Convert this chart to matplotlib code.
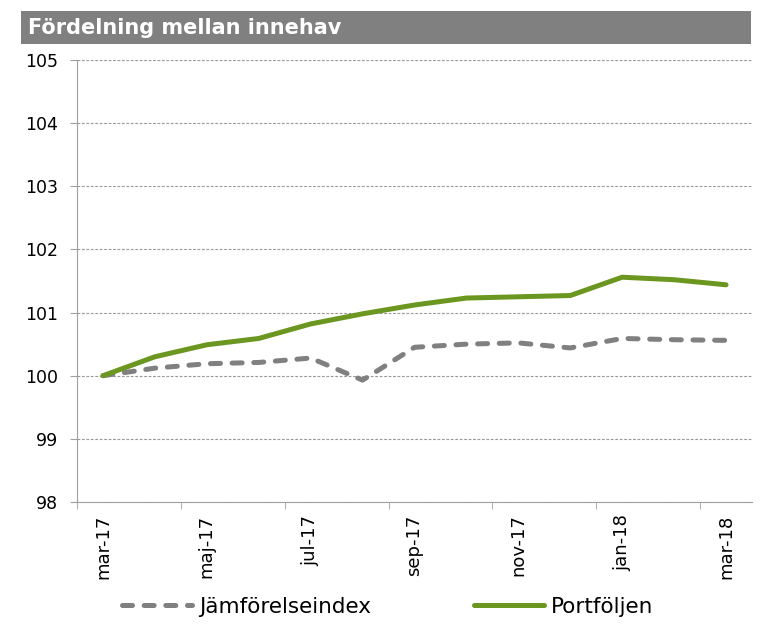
import numpy as np
import matplotlib
matplotlib.use("Agg")
import matplotlib.pyplot as plt
from matplotlib.patches import Rectangle

plt.rc('font', family='DejaVu Sans')

months = ["mar-17", "apr-17", "maj-17", "jun-17", "jul-17", "aug-17", "sep-17",
          "okt-17", "nov-17", "dec-17", "jan-18", "feb-18", "mar-18"]
index_vals = [100.0, 100.12, 100.19, 100.21, 100.28, 99.93, 100.45,
              100.50, 100.52, 100.44, 100.59, 100.57, 100.56]
portfolio_vals = [100.0, 100.30, 100.49, 100.59, 100.82, 100.98, 101.12,
                  101.23, 101.25, 101.27, 101.56, 101.52, 101.44]

green = "#6B961F"
grey = "#808080"

fig = plt.figure(figsize=(7.6, 6.33), dpi=100)
ax = fig.add_axes([77/760, 1-502/633, (752-77)/760, (502-60)/633])

x = np.arange(len(months))
ax.plot(x, index_vals, color=grey, lw=3.6, linestyle=(0, (2.0, 2.33)),
        dash_capstyle='round', label="Jämförelseindex")
ax.plot(x, portfolio_vals, color=green, lw=3.6, solid_capstyle='round',
        label="Portföljen")

ax.set_xlim(-0.5, len(months) - 0.5)
ax.set_ylim(98, 105)
ax.set_yticks(range(98, 106))
ax.set_xticks(x[::2])
ax.set_xticklabels(months[::2], rotation=90)
ax.set_xticks(np.arange(-0.5, len(months) - 1, 2), minor=True)
ax.tick_params(axis='x', which='major', length=0, labelsize=13, pad=9)
ax.tick_params(axis='x', which='minor', length=5, color="#A0A0A0", direction='out')
ax.tick_params(axis='y', length=5, color="#A0A0A0", labelsize=12.5, pad=8.5)

ax.grid(axis='y', color="#999999", linestyle=(0, (2.5, 1.5)), lw=0.8)
ax.set_axisbelow(True)
for s in ["top", "right"]:
    ax.spines[s].set_visible(False)
for s in ["left", "bottom"]:
    ax.spines[s].set_color("#A0A0A0")

# title bar
fig.patches.append(Rectangle((21/760, 1-44/633), 730/760, 33/633, transform=fig.transFigure,
                             facecolor="#808080", edgecolor="none"))
fig.text(28/760, 1-28/633, "Fördelning mellan innehav", color="white",
         fontsize=15, fontweight="bold", va="center", ha="left")

fig.legend(loc="center", bbox_to_anchor=(0.51, 1-607/633), ncol=2, frameon=False,
           fontsize=15.5, handlelength=3.25, columnspacing=4.8, handletextpad=0.3)

fig.savefig("out.png", dpi=100)
